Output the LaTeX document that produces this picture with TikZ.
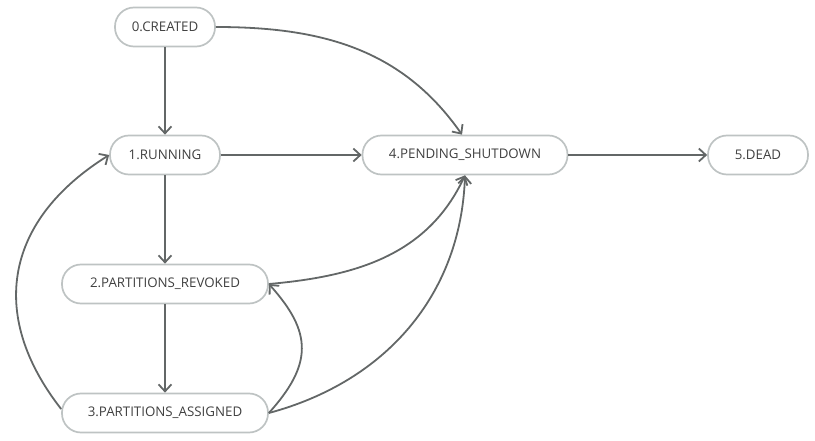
\documentclass[tikz,border=0pt]{standalone}
\usepackage{fontspec}
\setmainfont{Open Sans}
\usetikzlibrary{positioning, arrows.meta}
\definecolor{boxline}{HTML}{BEC3C3}
\definecolor{boxtext}{HTML}{404040}
\definecolor{edgeline}{HTML}{636767}

\begin{document}
\begin{tikzpicture}[x=1pt, y=1pt, node distance=129pt]
        \tikzstyle{state} = [rectangle, rounded corners=19pt, minimum height=39pt, inner xsep=10pt, text centered, draw=boxline, line width=1.7pt, text=boxtext, font=\fontsize{13.3}{15}\selectfont]
        \tikzstyle{arrow} = [draw=edgeline, line width=1.8pt, -{Straight Barb[length=7pt, width=13pt]}]

        \useasboundingbox (-165,27) rectangle (650,-414);

        \node (created) [state, minimum width=100pt] {0.CREATED};
        \node (running) [state, minimum width=110pt, below of=created, yshift=1pt] {1.RUNNING};
        \node (revoked) [state, minimum width=206pt, below of=running] {2.PARTITIONS\_REVOKED};
        \node (assigned) [state, minimum width=206pt, below of=revoked] {3.PARTITIONS\_ASSIGNED};
        \node (pending) [state, minimum width=205pt, right of=running, xshift=171pt] {4.PENDING\_SHUTDOWN};
        \node (dead) [state, minimum width=100pt, right of=pending, xshift=164pt] {5.DEAD};

        \draw [arrow] (created) -- (running);
        \draw [arrow] (created.east) to[out=0, in=125] ([xshift=-3pt]pending.north);
        \draw [arrow] (running) -- (pending);
        \draw [arrow] (pending) -- (dead);
        \draw [arrow] (running) -- (revoked);
        \draw [arrow] (revoked) -- (assigned);
        \draw [arrow] (revoked.east) to[out=5, in=-115] (pending.south);
        \draw [arrow] (assigned.east) to[out=15, in=-92] (pending.south);
        \draw [arrow] (assigned.east) to[out=48, in=-48, looseness=1.3] (revoked.east);
        \draw [arrow] ([yshift=4pt]assigned.west) to[out=128, in=-148, looseness=1.2] (running.west);
    \end{tikzpicture}
\end{document}
